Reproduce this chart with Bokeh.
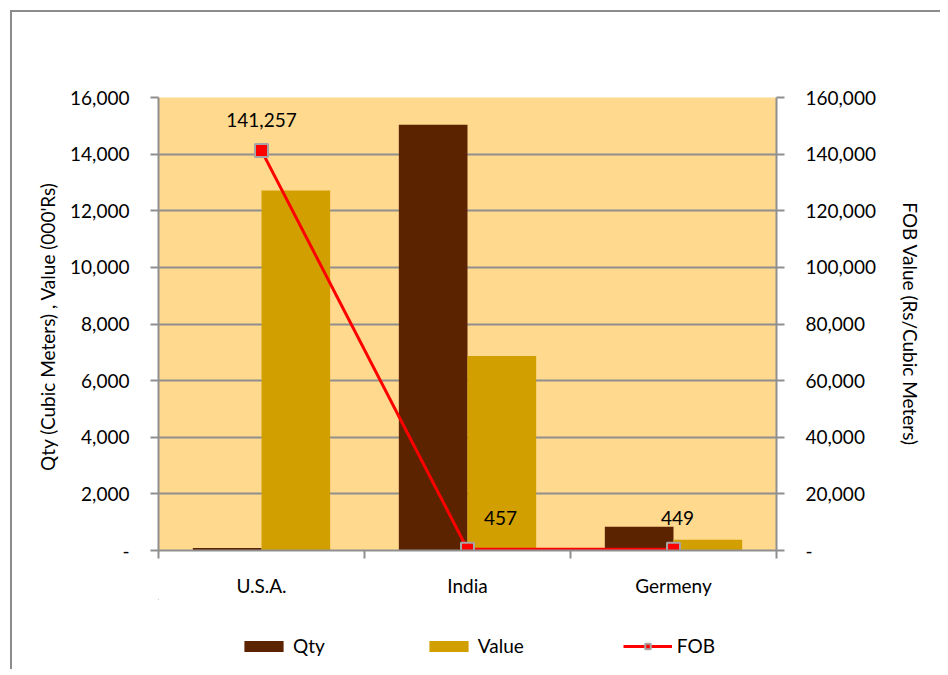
from bokeh.plotting import figure
from bokeh.layouts import column
from bokeh.models import (ColumnDataSource, Range1d, LinearAxis, FixedTicker,
                          Legend, LegendItem)
from bokeh.transform import dodge
from bokeh.embed import file_html
from bokeh.resources import INLINE
from bokeh.core.properties import value

# ---------------- data ----------------
countries = ["U.S.A.", "India", "Germeny"]
qty = [90, 15040, 840]            # Cubic Meters
val = [12713, 6873, 377]          # 000'Rs
fob = [141257, 457, 449]          # Rs / Cubic Meter
fob_labels = ["141,257", "457", "449"]

left_ticks = [0, 2000, 4000, 6000, 8000, 10000, 12000, 14000, 16000]
left_tick_labels = ["-", "2,000", "4,000", "6,000", "8,000", "10,000", "12,000", "14,000", "16,000"]
right_ticks = [0, 20000, 40000, 60000, 80000, 100000, 120000, 140000, 160000]
right_tick_labels = ["-", "20,000", "40,000", "60,000", "80,000", "100,000", "120,000", "140,000", "160,000"]

# ---------------- styles ----------------
FONT = "Lato"
FS = "19px"
GRID = "#8f8f8f"
QTY_C = "#5C2300"
VAL_C = "#D29F00"
BG = "#FFD98D"

n = len(countries)
xc = [i + 0.5 for i in range(n)]
src = ColumnDataSource(dict(x=xc, qty=qty, val=val, fob=fob, lab=fob_labels,
                            dx=[0, 33, 4]))

p = figure(frame_width=618, frame_height=453, output_backend="svg",
           toolbar_location=None,
           x_range=Range1d(0, n), y_range=Range1d(left_ticks[0], left_ticks[-1]),
           min_border_left=158, min_border_right=164, min_border_top=97,
           min_border_bottom=20,
           background_fill_color=BG, border_fill_color=None,
           outline_line_color=None)

p.extra_y_ranges = {"fob": Range1d(right_ticks[0], right_ticks[-1])}

# grids
p.xgrid.visible = False
p.ygrid[0].ticker = FixedTicker(ticks=left_ticks)
p.ygrid.grid_line_color = GRID
p.ygrid.grid_line_width = 2

# x axis
xa = p.xaxis[0]
xa.ticker = FixedTicker(ticks=xc, minor_ticks=list(range(n + 1)))
xa.major_label_overrides = {x: c for x, c in zip(xc, countries)}
xa.major_tick_line_color = None
xa.minor_tick_in = 0
xa.minor_tick_out = 8
xa.minor_tick_line_color = GRID
xa.minor_tick_line_width = 2
xa.axis_line_color = GRID
xa.axis_line_width = 2
xa.major_label_standoff = 15
xa.major_label_text_font = FONT
xa.major_label_text_font_size = FS
xa.major_label_text_color = "#000000"

# left axis
ya = p.yaxis[0]
ya.ticker = FixedTicker(ticks=left_ticks)
ya.major_label_overrides = {t: l for t, l in zip(left_ticks, left_tick_labels)}
ya.axis_label = "Qty  (Cubic Meters) , Value (000'Rs)"

# right axis
ra = LinearAxis(y_range_name="fob", ticker=FixedTicker(ticks=right_ticks),
                axis_label="FOB Value (Rs/Cubic Meters)")
ra.major_label_overrides = {t: l for t, l in zip(right_ticks, right_tick_labels)}
p.add_layout(ra, "right")

for a in (ya, ra):
    a.major_tick_in = 0
    a.major_tick_out = 8
    a.major_tick_line_color = GRID
    a.major_tick_line_width = 2
    a.minor_tick_line_color = None
    a.axis_line_color = GRID
    a.axis_line_width = 2
    a.major_label_standoff = 21
    a.major_label_text_font = FONT
    a.major_label_text_font_size = FS
    a.major_label_text_color = "#000000"
    a.axis_label_text_font = FONT
    a.axis_label_text_font_size = FS
    a.axis_label_text_font_style = "normal"
    a.axis_label_text_color = "#000000"
ya.axis_label_standoff = 8
ra.axis_label_standoff = 20

bw = 1 / 3


def draw(fig):
    rq = fig.vbar(x=dodge("x", -bw / 2), top="qty", width=bw, source=src,
                  fill_color=QTY_C, line_color=None)
    rv = fig.vbar(x=dodge("x", bw / 2), top="val", width=bw, source=src,
                  fill_color=VAL_C, line_color=None)
    kw = {"y_range_name": "fob"} if "fob" in fig.extra_y_ranges else {}
    rl = fig.line("x", "fob", source=src, line_color="#FF0000", line_width=3, **kw)
    rm = fig.scatter("x", "fob", source=src, marker="square", size=13,
                     fill_color="#FF0000", line_color="#a6a6a6", line_width=2, **kw)
    return rq, rv, rl, rm


draw(p)

p.text(x="x", y="fob", text="lab", x_offset="dx", y_offset=-31, source=src,
       y_range_name="fob", text_align="center", text_baseline="middle",
       text_font=value(FONT), text_font_size=FS, text_color="#000000")

# legend strip (separate figure so that the legend is not clipped)
lg = figure(width=p.min_border_left + 618 + p.min_border_right, height=70,
            output_backend="svg", toolbar_location=None,
            x_range=Range1d(100, 101), y_range=Range1d(-10, -9),
            min_border=0, outline_line_color=None, border_fill_color=None,
            background_fill_color=None)
lg.axis.visible = False
lg.grid.visible = False
lq, lv, ll, lm = draw(lg)

legend = Legend(items=[LegendItem(label="Qty", renderers=[lq]),
                       LegendItem(label="Value", renderers=[lv]),
                       LegendItem(label="FOB", renderers=[ll, lm])],
                orientation="horizontal", location=(81, 12),
                glyph_width=49, glyph_height=14, spacing=99, label_standoff=5,
                border_line_color=None, background_fill_alpha=0,
                label_text_font=FONT, label_text_font_size=FS,
                label_text_color="#000000", padding=4, margin=0)
lg.add_layout(legend, "center")

page = column(p, lg, spacing=0)
page.styles = {"box-shadow": "inset 10px 10px 0 0 #ffffff, inset 12px 12px 0 0 #8c8c8c"}

open("out.html", "w").write(file_html(page, INLINE))
